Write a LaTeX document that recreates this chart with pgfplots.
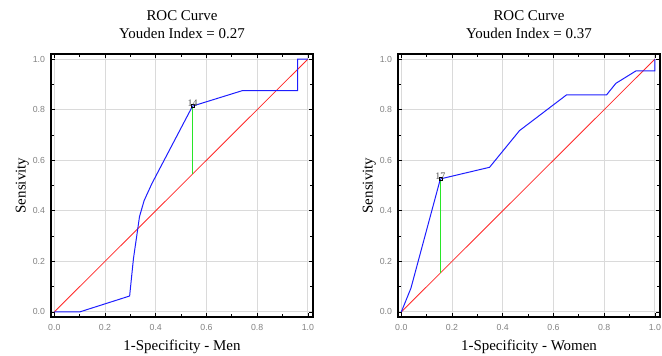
\documentclass[border=0pt]{standalone}
\usepackage{pgfplots}
\pgfplotsset{compat=1.18}
\usepackage{fontspec}
\setmainfont{Liberation Serif}
\newfontfamily\tickfont{Liberation Sans}
\definecolor{tickgray}{RGB}{130,130,130}
\definecolor{gridgray}{RGB}{218,218,218}
\definecolor{rocblue}{RGB}{30,30,255}
\definecolor{rocred}{RGB}{255,40,40}
\definecolor{rocgreen}{RGB}{40,230,40}
\pgfplotsset{rocstyle/.style={
  scale only axis, width=262bp, height=263bp,
  xmin=-0.013, xmax=1.02, ymin=-0.02, ymax=1.02,
  xtick={0,0.2,0.4,0.6,0.8,1}, ytick={0,0.2,0.4,0.6,0.8,1},
  minor x tick num=1, minor y tick num=1,
  grid=major, major grid style={gridgray, line width=0.9bp},
  axis line style={line width=1.4bp},
  every tick/.style={black, line width=0.7bp},
  major tick length=4bp, minor tick length=3bp,
  ticklabel style={font=\tickfont\fontsize{8.8}{10}\selectfont, text=tickgray},
  /pgf/number format/fixed, /pgf/number format/fixed zerofill,
  /pgf/number format/precision=1, /pgf/number format/assume math mode=true,
  yticklabel style={xshift=-2.5bp},
  xticklabel style={yshift=-3.5bp},
  title style={align=center, font=\fontsize{15}{17.7}\selectfont, at={(0.5,1)}, anchor=south, inner sep=0pt, yshift=9.5bp},
  label style={font=\fontsize{15}{18}\selectfont},
  xlabel style={at={(axis description cs:0.5,-0.129)}, anchor=base, inner sep=0pt},
  ylabel style={at={(axis description cs:-0.097,0.5)}, anchor=base, inner sep=0pt},
  ylabel={Sensivity},
  nodes near coords style={font=\fontsize{10}{11}\selectfont, text=black!70, anchor=south, inner sep=0pt, yshift=-0.5bp},
}}
\begin{document}
\begin{tikzpicture}
\useasboundingbox (0,0) rectangle (662bp,356bp);
\begin{axis}[rocstyle, at={(51bp,39bp)}, anchor=south west,
  title={ROC Curve\\Youden Index = 0.27}, xlabel={1-Specificity - Men}]
\addplot[rocred, line width=0.8bp] coordinates {(0,0) (1,1)};
\addplot[rocgreen, line width=1bp] coordinates {(0.545,0.545) (0.545,0.814)};
\addplot[rocblue, line width=1bp] coordinates {
(0,0) (0.10,0) (0.297,0.063) (0.312,0.21) (0.336,0.377) (0.354,0.44) (0.385,0.508)
(0.545,0.814) (0.741,0.875) (0.959,0.875) (0.959,1.0) (1.0,1.0)};
\addplot[only marks, mark=square, mark size=1.5bp, black, line width=0.6bp,
  nodes near coords, point meta=explicit symbolic] coordinates {(0.545,0.814) [14]};
\end{axis}
\begin{axis}[rocstyle, at={(398bp,39bp)}, anchor=south west,
  title={ROC Curve\\Youden Index = 0.37}, xlabel={1-Specificity - Women}]
\addplot[rocred, line width=0.8bp] coordinates {(0,0) (1,1)};
\addplot[rocgreen, line width=1bp] coordinates {(0.154,0.154) (0.154,0.526)};
\addplot[rocblue, line width=1bp] coordinates {
(0,0) (0.038,0.094) (0.154,0.526) (0.348,0.572) (0.466,0.717) (0.651,0.858)
(0.809,0.858) (0.846,0.904) (0.925,0.953) (1.0,0.953) (1.0,1.0)};
\addplot[only marks, mark=square, mark size=1.5bp, black, line width=0.6bp,
  nodes near coords, point meta=explicit symbolic] coordinates {(0.154,0.526) [17]};
\end{axis}
\end{tikzpicture}
\end{document}
